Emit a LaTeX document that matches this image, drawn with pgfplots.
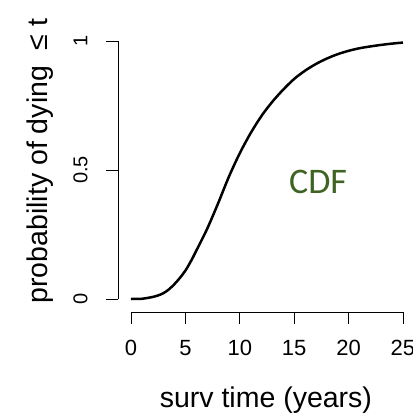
\documentclass[border=0pt]{standalone}
\usepackage{fontspec}
\setmainfont{Liberation Sans}
\newfontfamily\cdffont{Carlito}
\usepackage{pgfplots}
\pgfplotsset{compat=1.18}
\definecolor{cdfgreen}{RGB}{62,99,35}

\begin{document}
\begin{tikzpicture}
\begin{axis}[
    x=10.88bp, y=258bp,
    xmin=0, xmax=25, ymin=0, ymax=1,
    enlargelimits=false,
    clip=false,
    axis x line=bottom, axis y line=left,
    axis x line shift=13bp, axis y line shift=13bp,
    axis line style={-, black, line width=0.8bp},
    tick style={black, line width=0.8bp},
    tick align=outside,
    major tick length=12bp,
    xtick={0,5,10,15,20,25},
    ytick={0,0.5,1},
    yticklabels={0,0.5,1},
    /pgf/number format/assume math mode=true,
    xticklabel style={font=\fontsize{22bp}{25bp}\selectfont},
    yticklabel style={font=\fontsize{20bp}{23bp}\selectfont, rotate=90, anchor=south},
    xticklabel shift=13bp,
    yticklabel shift=15bp,
    every axis x label/.style={at={(axis description cs:0.496,-0.391)}, anchor=center},
    every axis y label/.style={at={(axis description cs:-0.334,0.535)}, rotate=90, anchor=center},
    label style={font=\fontsize{28.5bp}{32bp}\selectfont},
    xlabel={surv time (years)},
    ylabel={probability of dying\ \ ≤ t},
]
% CDF
\addplot[black, line width=2.5bp, smooth] coordinates {
    (0,0) (1,0.001) (1.5,0.004) (2,0.008) (2.5,0.014) (3,0.023) (3.5,0.038)
    (4,0.058) (4.5,0.082) (5,0.11) (5.5,0.146) (6,0.187) (7,0.272) (8,0.37)
    (9,0.474) (10,0.565) (11,0.643) (12,0.71) (13,0.765) (14,0.812)
    (15,0.853) (16,0.885) (17,0.911) (18,0.932) (19,0.949) (20,0.962)
    (21,0.972) (22,0.979) (23,0.985) (24,0.99) (25,0.994)
};
\node[font=\cdffont\fontsize{36bp}{40bp}\selectfont, text=cdfgreen] at (axis cs:17.2,0.455) {CDF};
\coordinate (bbA) at (axis cs:-12.04,-0.4535);
\coordinate (bbB) at (axis cs:25.92,1.159);
\end{axis}
\pgfresetboundingbox
\useasboundingbox (bbA) rectangle (bbB);
\end{tikzpicture}
\end{document}
